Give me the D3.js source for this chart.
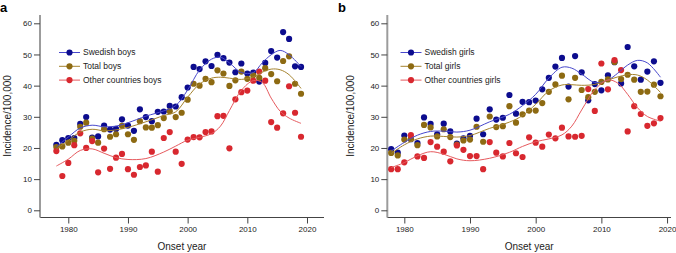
<!DOCTYPE html>
<html>
<head>
  <script src="https://cdn.jsdelivr.net/npm/d3@7"></script>
  <style>
    body { margin: 0; background: #fff; font-family: "Liberation Sans", Arial, sans-serif; }
    .tick text { font-size: 8px; fill: #222; }
    .tick line { stroke: #444; }
    .axis-title { font-size: 10px; fill: #222; }
    .legend text { font-size: 8.5px; fill: #222; }
  </style>
</head>
<body>
<svg id="chart" width="676" height="253"></svg>
<script>
const years = [1978,1979,1980,1981,1982,1983,1984,1985,1986,1987,1988,1989,1990,1991,1992,1993,1994,1995,1996,1997,
  1998,1999,2000,2001,2002,2003,2004,2005,2006,2007,2008,2009,2010,2011,2012,2013,2014,2015,2016,2017,2018,2019];

const boysSwedish = [21.0,22.5,23.2,23.2,27.7,29.9,23.3,23.7,27.2,25.9, 26.1,29.2,27.2,25.5,32.4,29.9,28.6,31.6,31.7,33.5,
  33.3,36.3,39.4,46.0,45.3,47.8,46.3,49.9,48.8,47.4, 44.3,47.1,43.9,44.2,41.3,47.3,51.1,49.0,57.2,55.0, 46.2,46.0];
const boysTotal = [20.3,20.5,21.7,22.3,26.8,28.1,23.0,21.7,26.0,23.6, 24.4,27.1,24.4,22.6,28.6,26.6,26.5,27.3,29.6,31.8,
  29.9,31.3,35.5,40.6,40.0,42.2,41.1,44.9,43.9,39.9, 41.7,44.5,42.2,43.3,42.5,45.6,43.7,41.4,47.9,49.4, 40.6,37.4];
const boysOther = [19.0,11.0,15.2,20.9,24.7,20.0,22.2,12.2,19.8,13.3, 16.9,18.1,13.2,11.4,13.9,14.4,18.8,12.4,23.2,25.1,
  18.8,14.9,22.7,23.5,23.4,25.1,25.3,30.2,30.3,19.9, 35.6,37.9,38.4,41.6,44.5,41.6,28.3,26.5,31.1,39.8, 31.3,23.6];

const girlsSwedish = [19.6,18.5,24.0,22.8,21.6,29.8,27.7,24.4,27.8,25.3, 21.4,23.1,23.9,29.4,24.4,32.4,29.1,29.7,37.0,31.0,
  34.8,34.7,35.2,38.8,42.5,46.1,48.9,39.7,49.5,44.3, 35.3,40.5,38.5,43.3,47.5,40.7,52.4,46.2,41.9,44.5, 47.8,40.9];
const girlsTotal = [18.4,17.6,22.7,22.9,20.9,27.4,26.6,23.7,26.0,23.5, 21.1,22.4,22.7,26.8,22.0,30.1,26.7,27.0,33.4,28.1,
  30.8,32.0,32.0,34.4,38.0,40.4,43.2,35.6,42.5,38.6, 36.3,38.0,41.2,42.0,47.6,42.1,43.5,41.9,38.0,38.1, 40.3,36.6];
const girlsOther = [13.2,13.2,15.4,24.1,17.3,16.8,21.9,20.4,18.8,15.7, 20.8,19.4,17.4,17.4,13.2,21.9,18.5,17.3,21.6,18.3,
  17.1,23.4,21.7,20.4,24.3,23.1,26.5,23.7,23.6,23.9, 38.9,31.9,47.1,38.8,48.2,45.0,25.3,33.4,30.9,27.1, 27.9,29.6];

// smoothed trend curves, read at these years
const fitYears = [1978,1980,1982,1984,1986,1988,1990,1993,1996,1998,2000,2002,2004,2005.5,2007,2009,2011,2012.5,2014,2015.5,2017,2019];
const fitBoysSwedish = [20.3,23.5,26.4,27.3,26.8,27.0,28.1,30.2,31.9,33.6,38.6,45.0,48.5,49.1,47.3,44.2,44.2,47.3,49.9,51.3,49.9,46.1];
const fitBoysTotal = [19.6,22.4,25.1,26.0,25.5,25.8,26.6,28.4,30.4,31.6,36.3,40.5,42.4,42.7,42.4,42.0,42.8,44.3,45.3,45.1,43.5,39.1];
const fitBoysOther = [14.2,16.4,19.2,19.7,18.3,16.9,16.3,16.6,18.7,20.6,22.5,23.4,24.6,27.0,32.0,38.5,41.6,41.0,36.0,31.8,29.6,27.9];
const fitGirlsSwedish = [19.0,21.8,24.1,25.3,25.4,25.1,25.7,28.4,30.8,33.6,37.2,42.4,45.9,45.6,43.7,41.0,41.8,44.0,46.6,48.1,47.3,42.7];
const fitGirlsTotal = [18.2,21.0,22.9,23.8,23.7,23.5,24.0,26.3,28.3,30.4,34.0,38.3,40.2,40.3,40.1,40.4,41.8,42.8,43.5,43.4,41.8,37.8];
const fitGirlsOther = [13.7,15.3,17.5,18.8,18.0,16.5,15.9,16.7,18.6,20.5,22.0,22.9,24.2,27.0,32.2,38.7,41.8,40.8,37.2,32.9,30.1,28.6];

const yTicks = [0,10,20,30,40,50,60];
const xTicks = [1980,1990,2000,2010,2020];

const colors = { sw: "#0c0c8e", tot: "#8d6a12", oth: "#d8282f" };
const lineColors = { sw: "#4848cc", tot: "#a5832e", oth: "#e65a5e" };

const svg = d3.select("#chart");

function panel(opts) {
  const g = svg.append("g");
  const x = d3.scaleLinear().domain(opts.xDomain).range(opts.xRange);
  const y = d3.scaleLinear().domain([0, 60]).range([210.3, 23.3]);
  const left = opts.xRange[0], right = opts.xRange[1];

  // x axis
  const xa = g.append("g").attr("transform", "translate(0,217.5)")
    .call(d3.axisBottom(x).tickValues(xTicks).tickFormat(d3.format("d")).tickSize(6).tickPadding(3));
  xa.select(".domain").attr("stroke", "#444").attr("d", `M${left},0H${right}`);

  // y axis
  const ya = g.append("g").attr("transform", `translate(${left},0)`)
    .call(d3.axisLeft(y).tickValues(yTicks).tickSize(6).tickPadding(2));
  ya.select(".domain").attr("stroke", "#9c9c9c").attr("stroke-width", 2).attr("d", "M0,15V217.5");

  g.append("text").attr("class", "axis-title")
    .attr("x", (left + right) / 2).attr("y", 250).attr("text-anchor", "middle").text("Onset year");
  g.append("text").attr("class", "axis-title")
    .attr("transform", `translate(${opts.yTitleX},116) rotate(-90)`)
    .attr("text-anchor", "middle").attr("dy", "0.35em").text("Incidence/100,000");
  g.append("text").attr("x", opts.labelX).attr("y", 11.5)
    .style("font-size", "13px").style("font-weight", "bold").text(opts.label);

  const line = d3.line().x(d => x(d[0])).y(d => y(d[1])).curve(d3.curveCatmullRom.alpha(0.5));

  opts.series.forEach(s => {
    g.append("g").selectAll("circle")
      .data(years.map((yr, i) => [yr, s.values[i]]))
      .join("circle")
      .attr("cx", d => x(d[0])).attr("cy", d => y(d[1])).attr("r", 3.1)
      .attr("fill", colors[s.key]);
  });
  opts.series.forEach(s => {
    g.append("path")
      .datum(fitYears.map((yr, i) => [yr, s.fit[i]]))
      .attr("fill", "none").attr("stroke", lineColors[s.key]).attr("stroke-width", 1)
      .attr("d", line);
  });

  // legend
  const lg = g.append("g").attr("class", "legend");
  opts.series.forEach((s, i) => {
    const yy = 52.5 + i * 13.8;
    lg.append("line").attr("x1", opts.legendX).attr("x2", opts.legendX + 21)
      .attr("y1", yy).attr("y2", yy).attr("stroke", lineColors[s.key]).attr("stroke-width", 1);
    lg.append("circle").attr("cx", opts.legendX + 10.5).attr("cy", yy).attr("r", 3.1).attr("fill", colors[s.key]);
    lg.append("text").attr("x", opts.legendX + 24).attr("y", yy).attr("dy", "0.35em").text(s.name);
  });
}

panel({
  label: "a", labelX: 0, yTitleX: 7,
  xDomain: [1975.26, 2022.85], xRange: [40, 324], legendX: 59,
  series: [
    { key: "sw", name: "Swedish boys", values: boysSwedish, fit: fitBoysSwedish },
    { key: "tot", name: "Total boys", values: boysTotal, fit: fitBoysTotal },
    { key: "oth", name: "Other countries boys", values: boysOther, fit: fitBoysOther }
  ]
});

panel({
  label: "b", labelX: 338, yTitleX: 350,
  xDomain: [1977.41, 2020.6], xRange: [387.3, 671], legendX: 400.5,
  series: [
    { key: "sw", name: "Swedish girls", values: girlsSwedish, fit: fitGirlsSwedish },
    { key: "tot", name: "Total girls", values: girlsTotal, fit: fitGirlsTotal },
    { key: "oth", name: "Other countries girls", values: girlsOther, fit: fitGirlsOther }
  ]
});
</script>
</body>
</html>
